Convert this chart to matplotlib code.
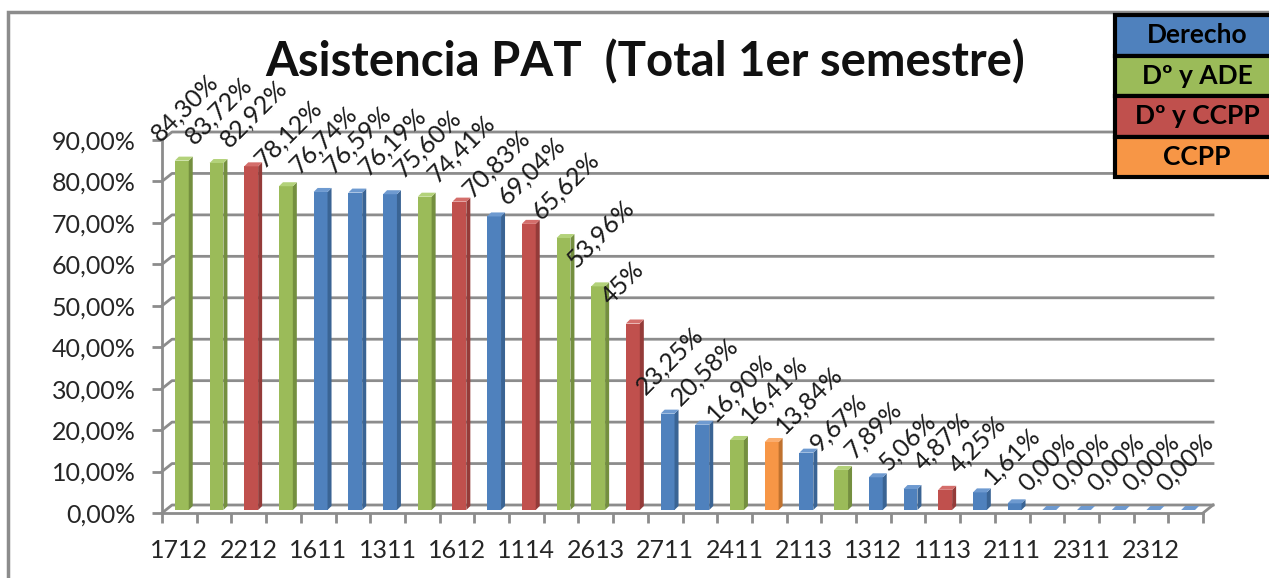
import matplotlib
matplotlib.use("Agg")
import matplotlib.pyplot as plt
import matplotlib.transforms as mtransforms
from matplotlib.patches import Polygon, Rectangle
from matplotlib.lines import Line2D
import numpy as np

# ---------------- data ----------------
values = [84.30, 83.72, 82.92, 78.12, 76.74, 76.59, 76.19, 75.60, 74.41, 70.83,
          69.04, 65.62, 53.96, 45.00, 23.25, 20.58, 16.90, 16.41, 13.84, 9.67,
          7.89, 5.06, 4.87, 4.25, 1.61, 0.00, 0.00, 0.00, 0.00, 0.00]
groups = ["Dº y ADE", "Dº y ADE", "Dº y CCPP", "Dº y ADE", "Derecho", "Derecho",
          "Derecho", "Dº y ADE", "Dº y CCPP", "Derecho", "Dº y CCPP", "Dº y ADE",
          "Dº y ADE", "Dº y CCPP", "Derecho", "Derecho", "Dº y ADE", "CCPP",
          "Derecho", "Dº y ADE", "Derecho", "Derecho", "Dº y CCPP", "Derecho",
          "Derecho", "Derecho", "Derecho", "Derecho", "Derecho", "Derecho"]
data_labels = ["84,30%", "83,72%", "82,92%", "78,12%", "76,74%", "76,59%", "76,19%",
               "75,60%", "74,41%", "70,83%", "69,04%", "65,62%", "53,96%", "45%",
               "23,25%", "20,58%", "16,90%", "16,41%", "13,84%", "9,67%", "7,89%",
               "5,06%", "4,87%", "4,25%", "1,61%", "0,00%", "0,00%", "0,00%",
               "0,00%", "0,00%"]
tick_labels = ["1712", "2212", "1611", "1311", "1612", "1114", "2613", "2711",
               "2411", "2113", "1312", "1113", "2111", "2311", "2312"]
legend_names = ["Derecho", "Dº y ADE", "Dº y CCPP", "CCPP"]
y_ticks = [0, 10, 20, 30, 40, 50, 60, 70, 80, 90]
title = "Asistencia PAT  (Total 1er semestre)"

# ---------------- style ----------------
front = {"Derecho": "#4F81BD", "Dº y ADE": "#9BBB59", "Dº y CCPP": "#C0504D", "CCPP": "#F79646"}
side = {"Derecho": "#3A6494", "Dº y ADE": "#748F3F", "Dº y CCPP": "#943B39", "CCPP": "#C0722F"}
topc = {"Derecho": "#6E9AD0", "Dº y ADE": "#B3D27A", "Dº y CCPP": "#D46E6B", "CCPP": "#FAAD6E"}

FONT = ["Lato", "DejaVu Sans"]
plt.rcParams["font.family"] = FONT
W, H = 1269, 578
DPI = 100
fig = plt.figure(figsize=(W / DPI, H / DPI), dpi=DPI)
fig.patch.set_facecolor("white")
ID = mtransforms.IdentityTransform()

# outer chart border
fig.add_artist(Rectangle((8, -20), 1300, H - 12 + 20, transform=ID, fill=False,
                         edgecolor="#8c8c8c", lw=2.5))

ax = fig.add_axes([162 / W, 65 / H, 1041 / W, 373 / H])
ax.set_zorder(3)
n = len(values)
ax.set_xlim(-0.5, n - 0.5)
ax.set_ylim(0, 90)
ax.set_facecolor("none")
for s in ["top", "right"]:
    ax.spines[s].set_visible(False)
ax.spines["left"].set_color("#8c8c8c")
ax.spines["bottom"].set_color("#8c8c8c")
ax.spines["left"].set_linewidth(2)
ax.spines["bottom"].set_linewidth(2)

ax.set_yticks(y_ticks)
ax.set_yticklabels([f"{t:.2f}".replace(".", ",") + "%" for t in y_ticks])
ax.tick_params(axis="y", length=7, width=2, color="#8c8c8c", pad=12,
               labelsize=18, labelcolor="#262626")
ax.set_xticks(np.arange(-0.5, n, 1.0))
ax.set_xticklabels([])
ax.tick_params(axis="x", which="major", length=7, width=2, color="#8c8c8c")
ax.set_xticks(np.arange(0, n, 2), minor=True)
ax.set_xticklabels(tick_labels, minor=True)
ax.tick_params(axis="x", which="minor", length=0, pad=19, labelsize=18,
               labelcolor="#262626")

fig.canvas.draw()
DX, DY = 10, 8  # depth in pixels


def px(x, y):
    return ax.transData.transform((x, y))


# back wall gridlines + left wall connectors
x0 = px(-0.5, 0)[0]
x1 = px(n - 0.5, 0)[0]
for t in y_ticks:
    yy = px(0, t)[1]
    fig.add_artist(Line2D([x0, x0 + DX, x1 + DX], [yy, yy + DY, yy + DY], transform=ID,
                          color="#8c8c8c", lw=2, zorder=0.5))
# floor right edge
yb = px(0, 0)[1]
fig.add_artist(Line2D([x1, x1 + DX], [yb, yb + DY], transform=ID, color="#8c8c8c",
                      lw=2, zorder=0.5))

# 3D-like bars
catw = px(1, 0)[0] - px(0, 0)[0]
fw = 0.40 * catw
sd = 4
for i, (v, g) in enumerate(zip(values, groups)):
    cx = px(i, 0)[0]
    y0 = px(i, 0)[1] + 3
    yt = px(i, v)[1] + 3
    xl = cx - 4.5
    xr = xl + fw
    fig.add_artist(Polygon([(xl, y0), (xr, y0), (xr, yt), (xl, yt)], closed=True,
                           transform=ID, facecolor=front[g], edgecolor="none", zorder=2))
    fig.add_artist(Polygon([(xr, y0), (xr + sd, y0 + sd), (xr + sd, yt + sd), (xr, yt)],
                           closed=True, transform=ID, facecolor=side[g],
                           edgecolor="none", zorder=2))
    fig.add_artist(Polygon([(xl, yt), (xr, yt), (xr + sd, yt + sd), (xl + sd, yt + sd)],
                           closed=True, transform=ID, facecolor=topc[g],
                           edgecolor="none", zorder=2))
    ax.annotate(data_labels[i], xy=(i, v), xytext=(-14, 15), textcoords="offset points",
                rotation=45, rotation_mode="anchor", ha="left", va="baseline",
                fontsize=18, color="#1a1a1a", annotation_clip=False, zorder=3)

# title
fig.text(645 / W, 1 - 62 / H, title, ha="center", va="center", fontsize=34,
         fontweight="bold", color="#111111")

# legend box (clipped at the right edge)
lx, ltop, rowh = 1115, 15, 40.5
for k, name in enumerate(legend_names):
    ytop = ltop + k * rowh
    fig.add_artist(Rectangle((lx, H - ytop - rowh), 200, rowh, transform=ID,
                             facecolor=front[name], edgecolor="black", lw=3, zorder=5))
    fig.text(1197 / W, 1 - (ytop + rowh / 2) / H, name, ha="center", va="center",
             fontsize=19, fontweight="bold", color="black", zorder=6)

fig.savefig("out.png", dpi=DPI)
